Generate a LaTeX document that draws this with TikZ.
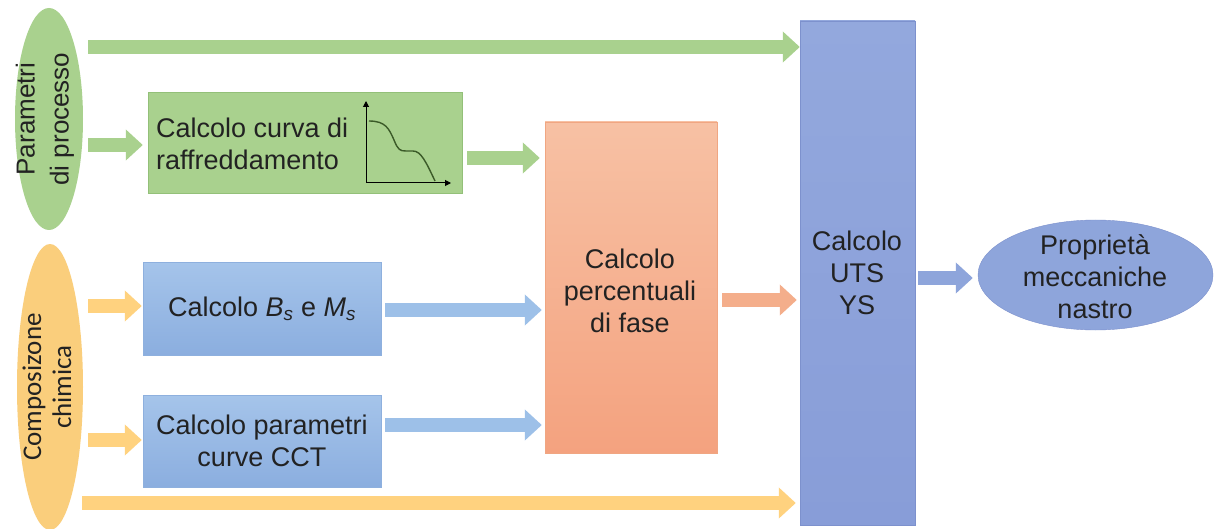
\documentclass[tikz,border=0pt]{standalone}
\usepackage{fontspec}
\setmainfont{Liberation Sans}
\newfontfamily\calibrifont{Carlito}
\usetikzlibrary{shapes.geometric,arrows.meta,calc}
\definecolor{gfill}{HTML}{A9D18E}
\definecolor{gline}{HTML}{93C079}
\definecolor{yfill}{HTML}{FFD27F}
\definecolor{yell}{HTML}{FACE7C}
\definecolor{btop}{HTML}{A5C4EA}
\definecolor{bbot}{HTML}{8BAEDF}
\definecolor{bline}{HTML}{8EB0DE}
\definecolor{barr}{HTML}{9DC0E8}
\definecolor{otop}{HTML}{F7C1A4}
\definecolor{obot}{HTML}{F4A27F}
\definecolor{oline}{HTML}{F0A682}
\definecolor{oarr}{HTML}{F4AE8B}
\definecolor{utop}{HTML}{93A8DD}
\definecolor{ubot}{HTML}{889DD8}
\definecolor{uline}{HTML}{7D91CD}
\definecolor{ufill}{HTML}{8EA5DB}
\definecolor{txtc}{HTML}{222222}
\definecolor{curvec}{HTML}{3B5A28}
\tikzset{
  txt/.style={text=txtc, font=\fontsize{27}{32}\selectfont, align=center, inner sep=0pt},
  blockarrow/.style={line width=14pt, -{Triangle[width=30pt,length=17pt]}},
  garrow/.style={blockarrow, draw=gfill},
  yarrow/.style={blockarrow, draw=yfill},
  barrow/.style={blockarrow, draw=barr},
  oarrow/.style={blockarrow, draw=oarr},
  uarrow/.style={blockarrow, draw=ufill},
}
\begin{document}
\begin{tikzpicture}[x=1pt,y=-1pt]
\useasboundingbox[fill=white] (0,0) rectangle (1214,529);
% ellipses on the left
\node[ellipse, fill=gfill, minimum width=68, minimum height=222, inner sep=0pt] (ppar) at (49,119) {};
\node[txt, rotate=90, font=\fontsize{26}{34}\selectfont] (ppartxt) at (45,119) {Parametri\\di processo};
\node[ellipse, fill=yell, minimum width=66, minimum height=286, inner sep=0pt] (comp) at (50,387) {};
\node[txt, rotate=90, font=\calibrifont\fontsize{27}{30}\selectfont] (comptxt) at (47,387) {Composizone\\chimica};
% boxes
\node[draw=gline, fill=gfill, minimum width=314, minimum height=101, inner sep=0pt] (gbox) at (305,142.5) {};
\node[txt, anchor=west, align=left] (gtxt) at (156,144) {Calcolo curva di\\raffreddamento};
\node[draw=bline, top color=btop, bottom color=bbot, minimum width=238, minimum height=93, inner sep=0pt] (bs) at (262,308.5) {};
\node[txt] (bstxt) at (262,309) {Calcolo \textit{B}\textsubscript{\textit{s}} e \textit{M}\textsubscript{\textit{s}}};
\node[draw=bline, top color=btop, bottom color=bbot, minimum width=238, minimum height=92, inner sep=0pt] (cct) at (262,441) {};
\node[txt] (ccttxt) at (262,441) {Calcolo parametri\\curve CCT};
\node[draw=oline, top color=otop, bottom color=obot, minimum width=172, minimum height=331, inner sep=0pt] (obox) at (631,287.5) {};
\node[txt] (otxt) at (630,291) {Calcolo\\percentuali\\di fase};
\node[draw=uline, top color=utop, bottom color=ubot, minimum width=115, minimum height=504, inner sep=0pt] (uts) at (857.5,273) {};
\node[txt] (utstxt) at (857,273) {Calcolo\\UTS\\YS};
\node[ellipse, draw=uline, fill=ufill, minimum width=235, minimum height=110, inner sep=0pt] (prop) at (1095.5,275) {};
\node[txt] (proptxt) at (1095,277) {Proprietà\\meccaniche\\nastro};
% small cooling curve graph
\coordinate (gorig) at (366,183);
\coordinate (gytop) at (366,101);
\coordinate (gxend) at (451,183);
\draw[black, line width=1pt, -{Triangle[width=6pt,length=6pt]}] (gorig) -- (gytop);
\draw[black, line width=1pt, -{Triangle[width=6pt,length=6pt]}] (gorig) -- (gxend);
\draw[curvec, line width=1.4pt] (369,121) .. controls (386,121) and (389,129) .. (394,140)
  .. controls (398,150) and (400,151) .. (406,151) -- (413,151)
  .. controls (421,151) and (426,162) .. (435,181);
% arrows
\draw[garrow] ($(ppar.center |- 0,47)+(39,0)$) -- (uts.west |- 0,47);
\draw[garrow] ($(ppar.center |- 0,145)+(39,0)$) -- ($(gbox.west |- 0,145)+(-5,0)$);
\draw[garrow] ($(gbox.east |- 0,158)+(5,0)$) -- ($(obox.west |- 0,158)+(-5,0)$);
\draw[yarrow] ($(comp.center |- 0,306)+(38,0)$) -- ($(bs.west |- 0,306)+(-1,0)$);
\draw[yarrow] ($(comp.center |- 0,440)+(38,0)$) -- ($(cct.west |- 0,440)+(-1,0)$);
\draw[yarrow] ($(comp.center |- 0,503)+(32,0)$) -- ($(uts.west |- 0,503)+(-4,0)$);
\draw[barrow] ($(bs.east |- 0,310)+(4,0)$) -- ($(obox.west |- 0,310)+(-3,0)$);
\draw[barrow] ($(cct.east |- 0,425)+(4,0)$) -- ($(obox.west |- 0,425)+(-3,0)$);
\draw[oarrow] ($(obox.east |- 0,300)+(5,0)$) -- ($(uts.west |- 0,300)+(-3,0)$);
\draw[uarrow] ($(uts.east |- 0,278)+(3,0)$) -- ($(prop.west |- 0,278)+(-5,0)$);
\end{tikzpicture}
\end{document}
